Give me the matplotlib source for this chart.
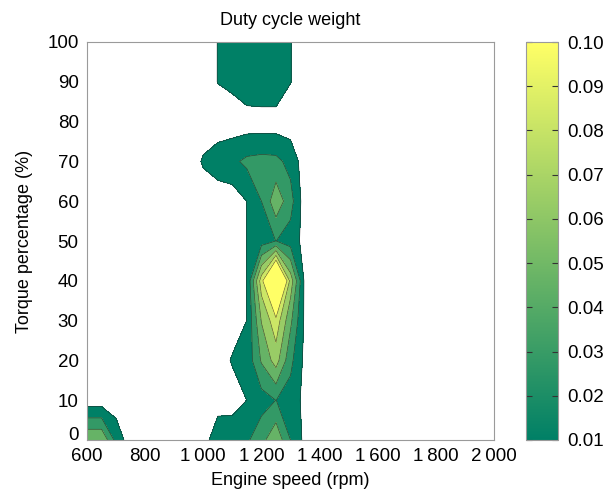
import numpy as np
import matplotlib
matplotlib.use("Agg")
import matplotlib.pyplot as plt
from matplotlib import colors as mcolors
from matplotlib import cm
from matplotlib.transforms import ScaledTranslation

plt.rcParams['font.family'] = ['Liberation Sans', 'DejaVu Sans']

# ---- data (read / estimated from the picture) ----
speeds = [600, 650, 700, 750, 950, 1000, 1050, 1100, 1150, 1200, 1250, 1300, 1350, 1400, 2000]
torques = [0, 10, 20, 30, 40, 50, 60, 70, 80, 90, 100]

w_t0   = [0.063, 0.063, 0.022, 0, 0, 0,     0.025,  0.026,  0.025,  0.040, 0.060,  0.028,  0.005, 0, 0]
w_t10  = [0,     0,     0,     0, 0, 0,     0,      0,      0.0102, 0.020, 0.0282, 0.020,  0.005, 0, 0]
w_t20  = [0,     0,     0,     0, 0, 0,     0,      0.0119, 0.016,  0.048, 0.072,  0.033,  0.005, 0, 0]
w_t30  = [0,     0,     0,     0, 0, 0,     0,      0,      0.0102, 0.065, 0.094,  0.050,  0.006, 0, 0]
w_t40  = [0,     0,     0,     0, 0, 0,     0,      0,      0.0102, 0.092, 0.178,  0.075,  0.005, 0, 0]
w_t50  = [0,     0,     0,     0, 0, 0,     0,      0,      0.0102, 0.020, 0.0282, 0.020,  0.004, 0, 0]
w_t60  = [0,     0,     0,     0, 0, 0,     0,      0,      0.0102, 0.028, 0.058,  0.035,  0,     0, 0]
w_t70  = [0,     0,     0,     0, 0, 0.012, 0.019,  0.024,  0.032,  0.034, 0.033,  0.022,  0,     0, 0]
w_t80  = [0,     0,     0,     0, 0, 0,     0,      0,      0,      0,     0,      0,      0,     0, 0]
w_t90  = [0,     0,     0,     0, 0, 0,     0.0105, 0.0143, 0.025,  0.027, 0.027,  0.0105, 0,     0, 0]
w_t100 = [0,     0,     0,     0, 0, 0,     0.0105, 0.015,  0.020,  0.022, 0.020,  0.0105, 0,     0, 0]

levels = [0.01, 0.028, 0.046, 0.064, 0.082, 0.10]
cbar_ticks = [0.01, 0.02, 0.03, 0.04, 0.05, 0.06, 0.07, 0.08, 0.09, 0.10]
xticks = [600, 800, 1000, 1200, 1400, 1600, 1800, 2000]
yticks = [0, 10, 20, 30, 40, 50, 60, 70, 80, 90, 100]

W = np.array([w_t0, w_t10, w_t20, w_t30, w_t40, w_t50, w_t60, w_t70, w_t80, w_t90, w_t100])
S, T = np.meshgrid(speeds, torques)

fig = plt.figure(figsize=(6.11, 4.99), dpi=100)
ax = fig.add_axes([87/611, 59/499, 407/611, 398/499])

norm = mcolors.Normalize(vmin=0.01, vmax=0.10)
cmap = plt.get_cmap('summer')
band_colors = [cmap(norm(l)) for l in levels]

ax.contourf(S, T, W, levels=levels, colors=band_colors, extend='max')
ax.contour(S, T, W, levels=levels, colors='#222222', linewidths=0.45, alpha=0.75)

ax.set_xlim(600, 2000)
ax.set_ylim(0, 100)
ax.set_xticks(xticks)
ax.set_xticklabels([f"{v:,}".replace(",", "\u2009") for v in xticks])
ax.set_yticks(yticks)
ax.set_yticklabels([str(v) for v in yticks])
ax.tick_params(length=0, labelsize=13.5, colors='black', pad=6)
for sp in ax.spines.values():
    sp.set_color('#9a9a9a')
    sp.set_linewidth(0.8)
# lift the "0" tick label like in the reference
lab0 = ax.get_yticklabels()[0]
lab0.set_transform(lab0.get_transform() + ScaledTranslation(0, 6/100, fig.dpi_scale_trans))

ax.set_title("Duty cycle weight", fontsize=13, pad=12)
ax.set_xlabel("Engine speed (rpm)", fontsize=13, labelpad=5)
ax.set_ylabel("Torque percentage (%)", fontsize=13, labelpad=10)

cax = fig.add_axes([526/611, 59/499, 32/611, 398/499])
sm = cm.ScalarMappable(norm=norm, cmap=cmap)
cb = fig.colorbar(sm, cax=cax, ticks=cbar_ticks)
cb.ax.set_yticklabels([f"{v:.2f}" for v in cbar_ticks])
cb.ax.tick_params(direction='in', length=4, width=0.8, colors='#333333', left=True, right=True,
                  labelsize=13.5, labelcolor='black', pad=7)
cb.outline.set_edgecolor('#9a9a9a')
cb.outline.set_linewidth(0.8)

fig.savefig("out.png", dpi=100)
